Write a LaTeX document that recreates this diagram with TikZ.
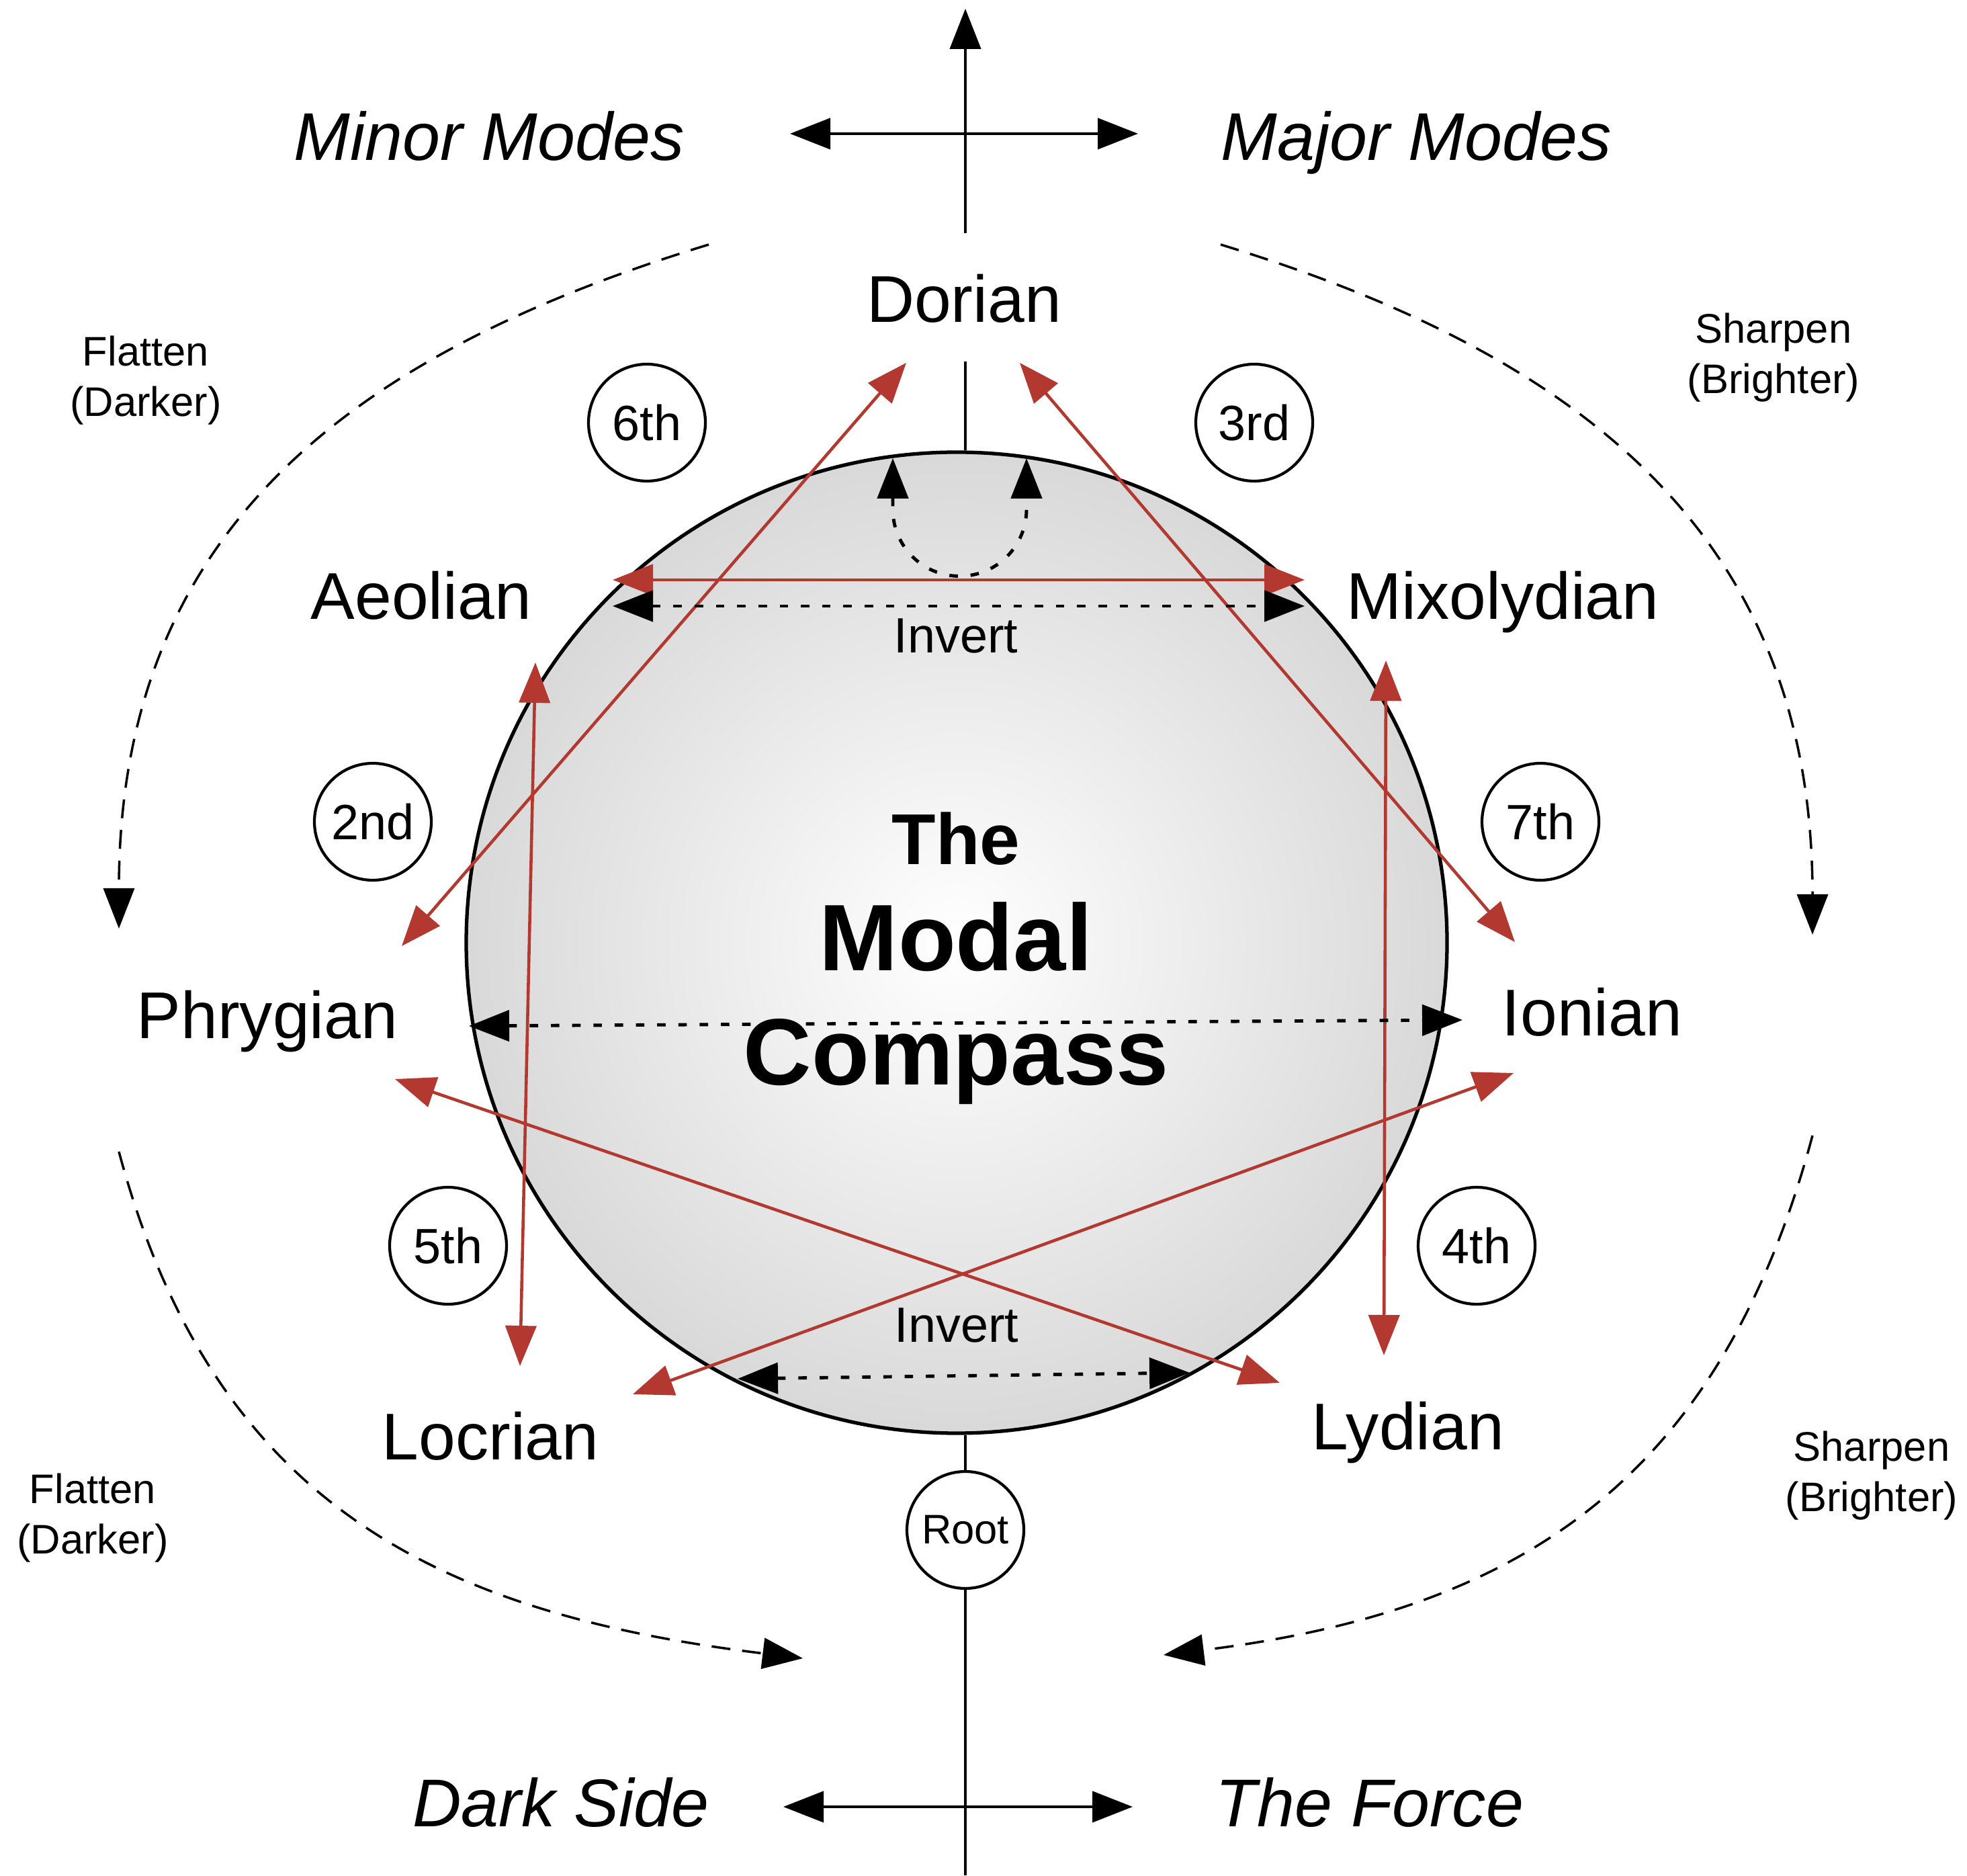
\documentclass[tikz,border=0pt]{standalone}
\usepackage{fontspec}
\setmainfont{Liberation Sans}
\usetikzlibrary{arrows.meta}

\definecolor{modered}{RGB}{178,56,48}

\begin{document}
\begin{tikzpicture}[
  >={Triangle[length=6mm,width=4.6mm]},
  mode/.style={anchor=base, font=\fontsize{28}{34}\selectfont},
  sidelabel/.style={anchor=base, font=\fontsize{28.6}{34}\selectfont\itshape},
  degree/.style={draw, circle, fill=white, line width=1.2pt, minimum size=1.74cm, inner sep=0pt, font=\fontsize{21}{25}\selectfont},
  hint/.style={align=center, font=\fontsize{17.5}{21.3}\selectfont},
  invlabel/.style={anchor=base, font=\fontsize{21}{25}\selectfont},
  axisline/.style={line width=1.2pt},
  redswap/.style={draw=modered, line width=1.3pt, <->},
  invline/.style={line width=1.4pt, dash pattern=on 3.6pt off 5.4pt, <->},
  drift/.style={line width=1pt, dash pattern=on 8pt off 5pt, ->},
]

\useasboundingbox (0,0) rectangle (29.28,27.91);

%the disc in the middle
\node[circle, draw, line width=1.5pt, minimum size=14.6cm, inner color=white, outer color=black!15] (disc) at (14.24,13.88) {};


%axes on top and bottom
\coordinate (up-tip) at (14.37,27.78);
\coordinate (up-foot) at (14.37,24.44);
\coordinate (minor-tip) at (11.76,25.92);
\coordinate (major-tip) at (16.94,25.92);
\draw[axisline,->] (up-foot) -- (up-tip);
\draw[axisline,<->] (minor-tip) -- (major-tip);
\node[sidelabel] (minor) at (7.28,25.52) {Minor Modes};
\node[sidelabel] (major) at (21.08,25.52) {Major Modes};

\coordinate (dark-tip) at (11.66,1.02);
\coordinate (force-tip) at (16.86,1.02);
\coordinate (floor) at (14.37,0);
\node[degree, font=\fontsize{17.5}{21}\selectfont] (root) at (14.37,5.14) {Root};
\draw[axisline] (root.north) -- (root |- disc.south);
\draw[axisline] (root.south) -- (floor);
\draw[axisline,<->] (dark-tip) -- (force-tip);
\node[sidelabel] (dark) at (8.35,0.73) {Dark Side};
\node[sidelabel] (force) at (20.39,0.73) {The Force};


%the seven modes
\node[mode] (dorian) at (14.35,23.11) {Dorian};
\node[mode] (aeolian) at (6.27,18.69) {Aeolian};
\node[mode] (mixolydian) at (22.37,18.69) {Mixolydian};
\node[mode] (phrygian) at (3.98,12.45) {Phrygian};
\node[mode] (ionian) at (23.70,12.49) {Ionian};
\node[mode] (locrian) at (7.30,6.19) {Locrian};
\node[mode] (lydian) at (20.96,6.34) {Lydian};

\coordinate (dor-stem) at (14.37,22.53);
\draw[axisline] (dor-stem) -- (dor-stem |- disc.north);


%scale degrees that change
\node[degree] (d6) at (9.63,21.62) {6th};
\node[degree] (d3) at (18.67,21.62) {3rd};
\node[degree] (d2) at (5.55,15.68) {2nd};
\node[degree] (d7) at (22.93,15.68) {7th};
\node[degree] (d5) at (6.67,9.37) {5th};
\node[degree] (d4) at (21.98,9.37) {4th};


%flatten and sharpen notes
\node[hint] (flat-top) at (2.17,22.25) {Flatten\\(Darker)};
\node[hint] (sharp-top) at (26.40,22.59) {Sharpen\\(Brighter)};
\node[hint] (flat-bot) at (1.38,5.32) {Flatten\\(Darker)};
\node[hint] (sharp-bot) at (27.86,5.95) {Sharpen\\(Brighter)};

\coordinate (tl-a) at (10.55,24.27);
\coordinate (tl-b) at (1.77,14.09);
\coordinate (tr-a) at (18.17,24.27);
\coordinate (tr-b) at (26.98,14.00);
\coordinate (bl-a) at (1.77,10.77);
\coordinate (bl-b) at (11.95,3.23);
\coordinate (br-a) at (26.98,11.01);
\coordinate (br-b) at (17.32,3.28);
\draw[drift] (tl-a) to[out=197,in=90,looseness=1.1] (tl-b);
\draw[drift] (tr-a) to[out=-17,in=90,looseness=1.1] (tr-b);
\draw[drift] (bl-a) to[out=-75,in=173,looseness=1.1] (bl-b);
\draw[drift] (br-a) to[out=-105,in=7,looseness=1.1] (br-b);


%red swaps between modes
\coordinate (phr-up) at (5.98,13.83);
\coordinate (dor-left) at (13.49,22.51);
\coordinate (dor-right) at (15.18,22.51);
\coordinate (ion-up) at (22.55,13.89);
\coordinate (aeo-red) at (9.12,19.28);
\coordinate (mix-red) at (19.42,19.28);
\coordinate (aeo-down) at (7.97,18.05);
\coordinate (loc-up) at (7.74,7.58);
\coordinate (mix-down) at (20.63,18.08);
\coordinate (lyd-up) at (20.60,7.74);
\coordinate (phr-low) at (5.88,11.85);
\coordinate (lyd-left) at (19.05,7.33);
\coordinate (loc-right) at (9.42,7.16);
\coordinate (ion-low) at (22.53,11.94);
\draw[redswap] (phr-up) -- (dor-left);
\draw[redswap] (dor-right) -- (ion-up);
\draw[redswap] (aeo-red) -- (mix-red);
\draw[redswap] (aeo-down) -- (loc-up);
\draw[redswap] (mix-down) -- (lyd-up);
\draw[redswap] (phr-low) -- (lyd-left);
\draw[redswap] (loc-right) -- (ion-low);


%dotted inversions
\coordinate (aeo-dot) at (9.12,18.89);
\coordinate (mix-dot) at (19.42,18.89);
\coordinate (phr-dot) at (6.98,12.64);
\coordinate (ion-dot) at (21.77,12.73);
\coordinate (loc-dot) at (10.98,7.39);
\coordinate (lyd-dot) at (17.71,7.48);
\coordinate (loop-l) at (13.29,21.09);
\draw[invline] (aeo-dot) -- (mix-dot);
\draw[invline] (phr-dot) -- (ion-dot);
\draw[invline] (loc-dot) -- (lyd-dot);
\draw[invline] (loop-l) -- ++(0,-0.76) arc[start angle=180, end angle=360, radius=0.995] -- ++(0,0.76);
\node[invlabel] (inv-top) at (14.23,18.19) {Invert};
\node[invlabel] (inv-bot) at (14.24,7.94) {Invert};


%title
\node[anchor=base, font=\fontsize{30.5}{36}\selectfont\bfseries] (the) at (14.23,15.04) {The};
\node[anchor=base, font=\fontsize{40}{48}\selectfont\bfseries] (modal) at (14.23,13.46) {Modal};
\node[anchor=base, font=\fontsize{40}{48}\selectfont\bfseries] (compass) at (14.23,11.76) {Compass};

\end{tikzpicture}
\end{document}
